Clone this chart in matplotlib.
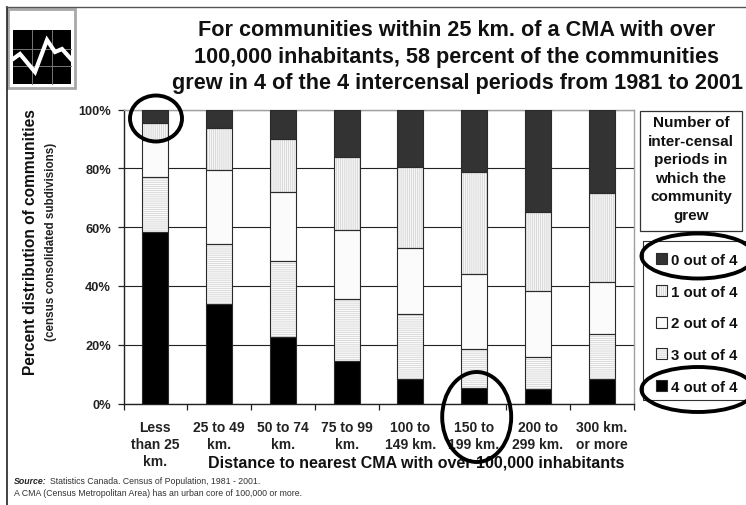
#!/usr/bin/env python3
"""Communities by growth periods and distance to nearest CMA, stacked bars."""
import matplotlib

matplotlib.use('Agg')
import matplotlib.pyplot as plt
from matplotlib.legend_handler import HandlerTuple
from matplotlib.patches import Ellipse, Rectangle

plt.rcParams['font.family'] = ['Liberation Sans', 'DejaVu Sans']
plt.rcParams['hatch.linewidth'] = 0.5

CATEGORIES = ['Less\nthan 25\nkm.', '25 to 49\nkm.', '50 to 74\nkm.', '75 to 99\nkm.',
              '100 to\n149 km.', '150 to\n199 km.', '200 to\n299 km.', '300 km.\nor more']
# share of communities per bar, bottom segment first
OUT_4 = [58.5, 33.8, 22.5, 14.5, 8.3, 5.4, 5.1, 8.3]
OUT_3 = [18.5, 20.6, 26.0, 21.0, 22.1, 13.3, 10.7, 15.2]
OUT_2 = [12.5, 25.0, 23.5, 23.5, 22.6, 25.5, 22.4, 17.8]
OUT_1 = [5.8, 14.4, 18.0, 25.0, 27.3, 34.6, 26.8, 30.4]
OUT_0 = [4.7, 6.2, 10.0, 16.0, 19.7, 21.2, 35.0, 28.3]
SERIES = [('4 out of 4', OUT_4, '#000000', None),
          ('3 out of 4', OUT_3, '#fafafa', '--------'),
          ('2 out of 4', OUT_2, '#fbfbfb', None),
          ('1 out of 4', OUT_1, '#f6f6f6', '||||||||'),
          ('0 out of 4', OUT_0, '#333333', None)]
Y_TICKS = [0, 20, 40, 60, 80, 100]

TITLE = ('For communities within 25 km. of a CMA with over\n'
         '100,000 inhabitants, 58 percent of the communities\n'
         'grew in 4 of the 4 intercensal periods from 1981 to 2001')
LEGEND_TITLE = 'Number of\ninter-censal\nperiods in\nwhich the\ncommunity\ngrew'
LOGO_X = [13, 20, 35, 47, 55, 62, 71]
LOGO_Y = [60, 55, 73, 41, 53, 50, 60]

W, H = 746, 506
fig = plt.figure(figsize=(W / 100, H / 100), dpi=100, facecolor='white')

# plot area: x 123.5-633.5, y 110.5-404.5 in pixels
ax = fig.add_axes([123.5 / W, 1 - 404.5 / H, 510 / W, 294 / H])
x = list(range(len(CATEGORIES)))
bottom = [0.0] * len(x)
handles = {}
for label, vals, fc, hatch in SERIES:
    bars = ax.bar(x, vals, 0.41, bottom=bottom, color=fc, edgecolor='#cfcfcf',
                  hatch=hatch, linewidth=0, zorder=3, label=label)
    outline = ax.bar(x, vals, 0.41, bottom=bottom, fill=False, edgecolor='#2a2a2a',
                     linewidth=0.8, zorder=4)
    handles[label] = (bars, outline)
    bottom = [b + v for b, v in zip(bottom, vals)]

ax.set_xlim(-0.5, 7.5)
ax.set_ylim(0, 100)
ax.set_yticks(Y_TICKS)
ax.set_yticklabels([f'{t}%' for t in Y_TICKS], fontsize=9.2, fontweight='bold', color='#222222')
ax.set_xticks(x)
ax.set_xticklabels(CATEGORIES, fontsize=10, fontweight='bold', color='#222222', linespacing=1.28)
ax.set_xticks([i - 0.5 for i in range(9)], minor=True)
ax.tick_params(axis='x', which='major', length=0, pad=12)
ax.tick_params(axis='x', which='minor', length=4, width=0.9, color='#222222')
ax.tick_params(axis='y', length=4, width=0.9, color='#222222', pad=5)
ax.grid(axis='y', color='#222222', linewidth=0.8, zorder=1)
ax.set_axisbelow(True)
for sp in ('top', 'right'):
    ax.spines[sp].set_color('#a0a0a0')
    ax.spines[sp].set_linewidth(1.0)
for sp in ('left', 'bottom'):
    ax.spines[sp].set_color('#222222')
    ax.spines[sp].set_linewidth(1.0)
ax.set_xlabel('Distance to nearest CMA with over 100,000 inhabitants',
              fontsize=11.5, fontweight='bold', color='#111111', va='center')
ax.xaxis.set_label_coords(0.573, -0.198)

order = ['0 out of 4', '1 out of 4', '2 out of 4', '3 out of 4', '4 out of 4']
leg = ax.legend([handles[k] for k in order], order, loc='upper left',
                bbox_to_anchor=(656 / W, 1 - 254 / H), bbox_transform=fig.transFigure,
                handler_map={tuple: HandlerTuple(ndivide=1, pad=0)},
                prop={'size': 10.8, 'weight': 'bold'}, handlelength=0.75, handleheight=0.75,
                handletextpad=0.25, labelspacing=1.18, borderaxespad=0, borderpad=0,
                frameon=False, labelcolor='#111111')

# overlay in pixel coordinates: page frame, logo, text, ellipses
ov = fig.add_axes([0, 0, 1, 1], zorder=5)
ov.set_xlim(0, W)
ov.set_ylim(H, 0)
ov.axis('off')

ov.plot([6.5, 6.5], [7.5, H], color='#222222', lw=1.2)
ov.plot([6, W], [7.5, 7.5], color='#555555', lw=1.0)

ov.add_patch(Rectangle((8, 10), 67, 79, fc='white', ec='#a8a8a8', lw=2.0))
ov.add_patch(Rectangle((13, 31), 58, 54, fc='black', ec='none'))
for gx in (32, 52):
    ov.plot([gx, gx], [31, 85], color='#777777', lw=0.7)
for gy in (50, 67):
    ov.plot([13, 71], [gy, gy], color='#777777', lw=0.7)
ov.plot(LOGO_X, LOGO_Y, color='white', lw=3, solid_joinstyle='miter')

ov.text(457, 57, TITLE, ha='center', va='center', fontsize=15.6, fontweight='bold',
        color='#111111', linespacing=1.36)

ov.add_patch(Rectangle((640, 112), 102, 120, fc='white', ec='#333333', lw=0.9))
ov.text(691, 169.5, LEGEND_TITLE, ha='center', va='center', fontsize=11, fontweight='bold',
        color='#111111', linespacing=1.41)
ov.add_patch(Rectangle((643, 242), 110, 159, fill=False, ec='#333333', lw=0.8))

ov.text(31, 242, 'Percent distribution of communities', rotation=90, ha='center', va='center',
        fontsize=11.2, fontweight='bold', color='#111111')
ov.text(51, 242, '(census consolidated subdivisions)', rotation=90, ha='center', va='center',
        fontsize=8.4, fontweight='bold', color='#222222')

ov.text(14, 482, 'Source:', ha='left', va='center', fontsize=6.3, fontweight='bold',
        fontstyle='italic', color='#222222')
ov.text(50.5, 482, 'Statistics Canada. Census of Population, 1981 - 2001.', ha='left', va='center',
        fontsize=6.3, color='#333333')
ov.text(14, 494, 'A CMA (Census Metropolitan Area) has an urban core of 100,000 or more.',
        ha='left', va='center', fontsize=6.35, color='#333333')

for cx, cy, ew, eh in [(156, 119.5, 52, 46), (476.7, 418, 69, 90),
                       (698, 257, 113, 45), (698, 390.5, 113, 45)]:
    ov.add_patch(Ellipse((cx, cy), ew, eh, fill=False, ec='black', lw=2.8))

fig.savefig('out.png', dpi=100)
